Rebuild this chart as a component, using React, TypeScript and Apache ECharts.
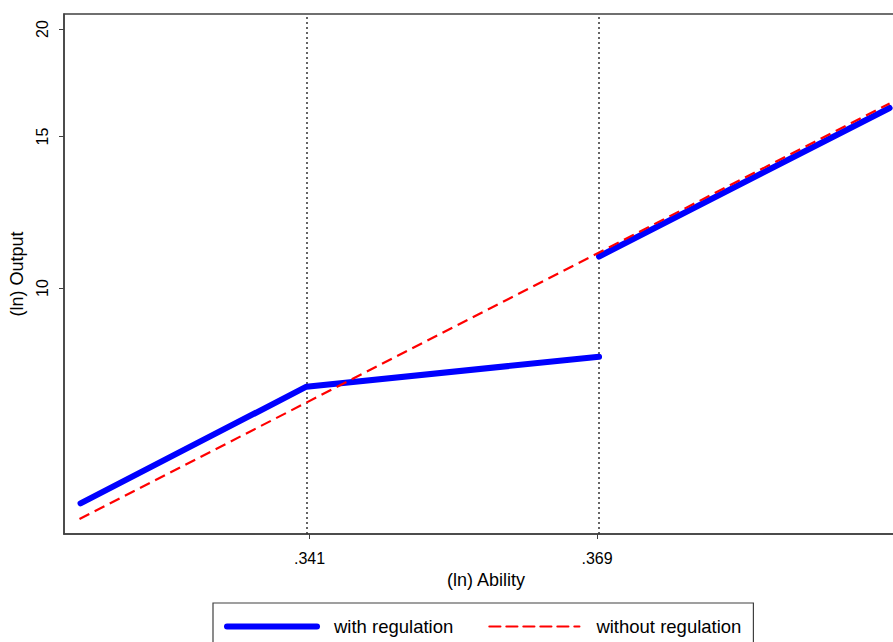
import React, { useEffect, useRef } from "react";
import * as echarts from "echarts";

// (ln) Ability values and output
const abilityWithLow = [0.3187, 0.3407, 0.3692];
const outputWithLow = [5.62, 7.68, 8.32];
const abilityWithHigh = [0.3692, 0.3975];
const outputWithHigh = [10.88, 16.19];
const abilityWithout = [0.3186, 0.3975];
const outputWithout = [5.39, 16.39];
const thresholds = [0.3407, 0.3692];
const xTicks = [0.341, 0.369];
const yTicks = [10, 15, 20];
const seriesNames = ["with regulation", "without regulation"];

const FONT = "Liberation Sans, Arial, sans-serif";

const pairs = (xs: number[], ys: number[]) => xs.map((x, i) => [x, ys[i]]);

export default function App() {
  const ref = useRef<HTMLDivElement>(null);
  useEffect(() => {
    const chart = echarts.init(ref.current!, null, { renderer: "svg" });
    const blue = "#0000ff";
    const red = "#ff0000";
    const frame = "#404040";
    const clear = "rgba(0,0,0,0)";
    chart.setOption({
      animation: false,
      textStyle: { fontFamily: FONT },
      grid: {
        left: 64,
        top: 14,
        right: 12,
        bottom: 108,
        show: true,
        borderColor: frame,
        borderWidth: 1.5,
        containLabel: false,
      },
      legend: {
        data: seriesNames,
        left: 213,
        top: 603,
        orient: "horizontal",
        itemWidth: 90,
        itemHeight: 16,
        itemGap: 35,
        padding: [14, 12, 30, 11],
        borderColor: frame,
        borderWidth: 1.2,
        itemStyle: { color: clear, borderColor: clear, borderWidth: 0, opacity: 0 },
        lineStyle: { width: "inherit", cap: "round" },
        textStyle: { fontSize: 18.5, color: "#000", fontFamily: FONT, padding: [0, 0, 0, 12] },
      },
      xAxis: {
        type: "value",
        min: 0.31709,
        max: 0.39929,
        name: "(ln) Ability",
        nameLocation: "middle",
        nameGap: 36,
        nameTextStyle: { fontSize: 18, color: "#000", fontFamily: FONT },
        axisLine: { show: true, lineStyle: { color: frame, width: 1.5 } },
        axisTick: { show: true, customValues: xTicks, length: 5, lineStyle: { color: frame } },
        axisLabel: {
          customValues: xTicks,
          fontSize: 16,
          color: "#000",
          margin: 16,
          formatter: (v: number) => v.toFixed(3).replace(/^0/, ""),
        },
        splitLine: { show: false },
      },
      yAxis: {
        type: "log",
        logBase: 10,
        min: 5.178,
        max: 20.82,
        name: "(ln) Output",
        nameLocation: "middle",
        nameRotate: 90,
        nameGap: 34,
        nameTextStyle: { fontSize: 18, color: "#000", fontFamily: FONT },
        axisLine: { show: true, lineStyle: { color: frame, width: 1.5 } },
        axisTick: { show: true, customValues: yTicks, length: 5, lineStyle: { color: frame } },
        minorTick: { show: false },
        axisLabel: {
          customValues: yTicks,
          rotate: 90,
          fontSize: 16,
          color: "#000",
          margin: 14,
          formatter: (v: number) => String(Math.round(v)),
        },
        splitLine: { show: false },
      },
      series: [
        {
          name: seriesNames[0],
          type: "line",
          symbol: "none",
          z: 3,
          lineStyle: { color: blue, width: 6, cap: "round", join: "round" },
          itemStyle: { color: blue },
          data: pairs(abilityWithLow, outputWithLow),
          markLine: {
            silent: true,
            z: 1,
            precision: 6,
            symbol: "none",
            label: { show: false },
            emphasis: { disabled: true },
            lineStyle: { color: "#333", type: [2, 3], width: 1.5 },
            data: thresholds.map((t) => ({ xAxis: t })),
          },
        },
        {
          name: seriesNames[0],
          type: "line",
          symbol: "none",
          z: 3,
          lineStyle: { color: blue, width: 6, cap: "round", join: "round" },
          itemStyle: { color: blue },
          data: pairs(abilityWithHigh, outputWithHigh),
        },
        {
          name: seriesNames[1],
          type: "line",
          symbol: "none",
          z: 4,
          lineStyle: { color: red, width: 2.2, type: [11, 6] },
          itemStyle: { color: red },
          data: pairs(abilityWithout, outputWithout),
        },
      ],
    });
    return () => chart.dispose();
  }, []);
  return (
    <div
      ref={ref}
      style={{ position: "fixed", left: 0, top: 0, width: 920, height: 642, background: "#fff" }}
    />
  );
}
